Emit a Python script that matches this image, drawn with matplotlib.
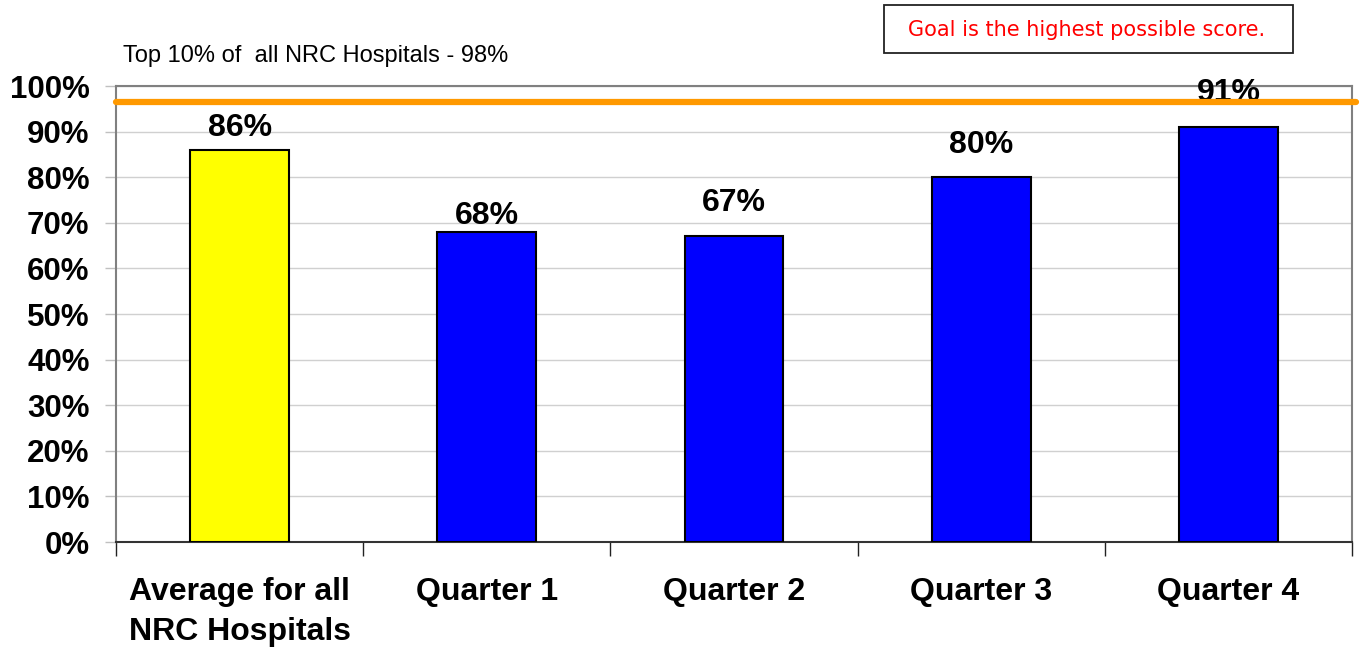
import matplotlib.pyplot as plt
from matplotlib.patches import Rectangle
import numpy as np

categories = ["Average for all\nNRC Hospitals", "Quarter 1", "Quarter 2", "Quarter 3", "Quarter 4"]
scores = [86, 68, 67, 80, 91]
bar_colors = ["#FFFF00", "#0000FF", "#0000FF", "#0000FF", "#0000FF"]
top10_level = 96.5
top10_text = "Top 10% of  all NRC Hospitals - 98%"
goal_text = "Goal is the highest possible score."

# label offsets above bar tops (pixels), as placed in the original
label_offsets = [22, 16, 33, 32, 34]

plt.rcParams['font.family'] = ['Liberation Sans', 'DejaVu Sans']

W, H = 1361, 649
fig = plt.figure(figsize=(W / 100, H / 100), dpi=100)
ax = fig.add_axes([116 / W, 1 - 542 / H, 1236 / W, 456 / H])

x = np.arange(len(categories))
ax.bar(x, scores, width=0.4, color=bar_colors, edgecolor="black", linewidth=1.5, zorder=3)

for xi, v, off in zip(x, scores, label_offsets):
    ax.annotate(f"{v}%", (xi, v), xytext=(0, off * 0.72), textcoords="offset points",
                ha="center", va="center", fontsize=23, fontweight="bold", zorder=4)

ax.set_xlim(-0.5, len(categories) - 0.5)
ax.set_ylim(0, 100)
ax.set_yticks(np.arange(0, 101, 10))
ax.set_yticklabels([f"{t}%" for t in range(0, 101, 10)], fontsize=22.5, fontweight="bold")
ax.yaxis.grid(True, color="#d0d0d0", linewidth=1, zorder=0)

ax.set_xticks(np.arange(-0.5, len(categories), 1.0))
ax.set_xticklabels([])
ax.set_xticks(x, minor=True)
ax.set_xticklabels(categories, minor=True, fontsize=23, fontweight="bold", linespacing=1.45)
ax.tick_params(axis="x", which="minor", length=0, pad=25)
ax.tick_params(axis="x", which="major", length=10, width=1, color="#222222", direction="out")
ax.tick_params(axis="y", length=8, width=1, color="#c0c0c0", pad=11)
for lbl in ax.get_xticklabels(minor=True):
    lbl.set_verticalalignment("top")

for side in ["left", "top", "right"]:
    ax.spines[side].set_color("#808080")
    ax.spines[side].set_linewidth(1.5)
ax.spines["bottom"].set_color("#333333")
ax.spines["bottom"].set_linewidth(1.5)

ax.plot([-0.5, 4.515], [top10_level, top10_level], color="#FF9900", linewidth=4.5,
        solid_capstyle="round", clip_on=False, zorder=5)

fig.text(123 / W, 1 - 56 / H, top10_text, fontsize=17, va="center", ha="left")

# goal note box
fig.patches.append(Rectangle((884 / W, 1 - 53 / H), 409 / W, 48 / H, transform=fig.transFigure,
                             facecolor="white", edgecolor="#222222", linewidth=1.3))
fig.text(1087 / W, 1 - 30 / H, goal_text, fontsize=15, color="#FF0000",
         family="DejaVu Sans", ha="center", va="center")

fig.savefig("out.png", dpi=100)
